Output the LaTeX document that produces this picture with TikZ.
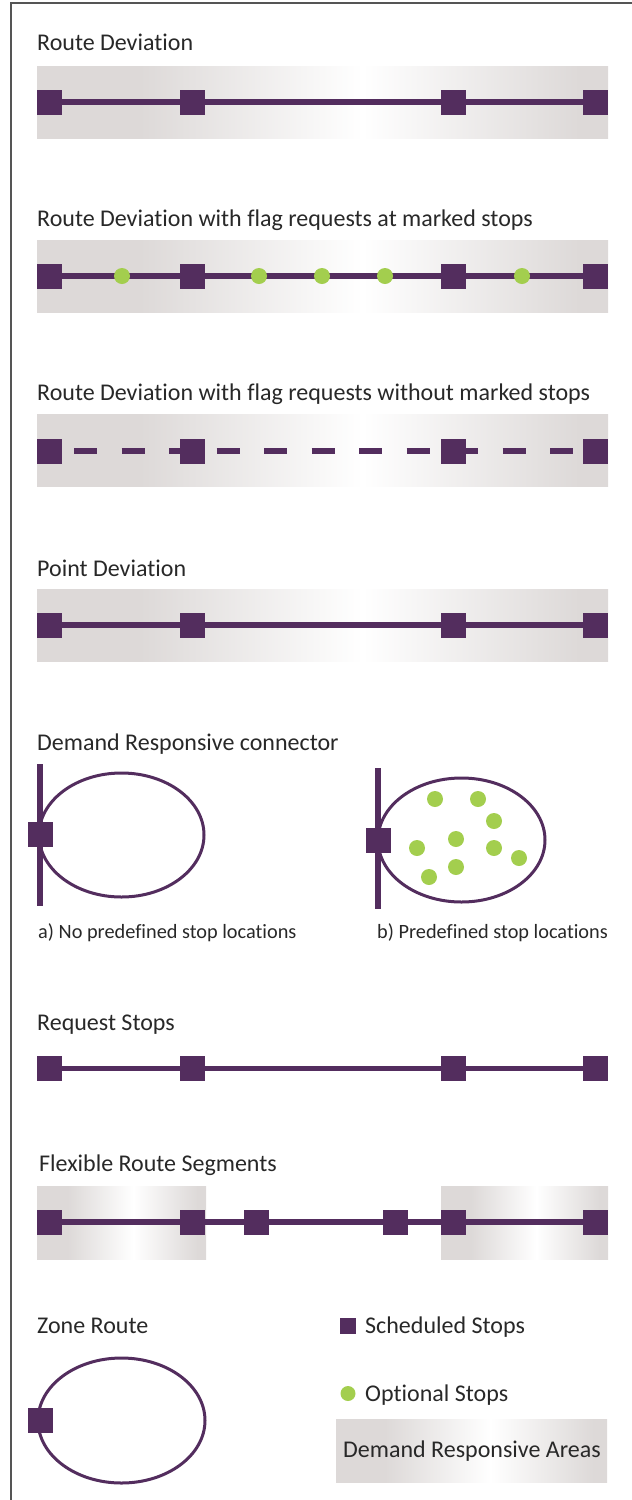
\documentclass[tikz,border=0pt]{standalone}
\usepackage{fontspec}
\setmainfont{Carlito}[Ligatures=NoCommon]
\usetikzlibrary{shapes.geometric}
\usetikzlibrary{positioning}

\definecolor{stoppurple}{RGB}{83,45,94}
\definecolor{optgreen}{RGB}{163,206,78}
\definecolor{areagray}{RGB}{221,217,216}
\definecolor{framegray}{RGB}{85,85,85}
\definecolor{textgray}{RGB}{40,40,40}

\pgfdeclarehorizontalshading{areashade}{100bp}{color(0bp)=(areagray); color(34bp)=(areagray); color(53.5bp)=(white); color(72.5bp)=(areagray); color(100bp)=(areagray)}

\tikzset{
    schedstop/.style={rectangle,fill=stoppurple,minimum size=25,inner sep=0},
    optstop/.style={circle,fill=optgreen,minimum size=16,inner sep=0},
    demandarea/.style={rectangle,shading=areashade,inner sep=0,minimum height=72},
    sectiontitle/.style={anchor=base west,inner sep=0,text=textgray,font=\fontsize{24}{28}\selectfont},
    subcaption/.style={anchor=base west,inner sep=0,text=textgray,font=\fontsize{20.3}{24}\selectfont},
    routeline/.style={stoppurple,line width=5.5},
    zoneloop/.style={ellipse,draw=stoppurple,line width=3,inner sep=0}
}

\begin{document}
\begin{tikzpicture}[x=1pt,y=-1pt]

            \useasboundingbox (0,0) rectangle (632,1500);
            \draw[framegray,line width=2] (11,1500) -- (11,3) -- (632,3);

            % Route Deviation
            \path   (37,50) node (t1) [sectiontitle] {Route Deviation}
                    (322.5,102) node (r1) [demandarea,minimum width=571] {}
                    (49.5,102) node (a1) [schedstop] {}
                    (192.5,102) node (a2) [schedstop] {}
                    (453.5,102) node (a3) [schedstop] {}
                    (595.5,102) node (a4) [schedstop] {};
            \draw[routeline] (node cs: name=a1) -- (node cs: name=a2);
            \draw[routeline] (node cs: name=a2) -- (node cs: name=a3);
            \draw[routeline] (node cs: name=a3) -- (node cs: name=a4);

            % flag requests at marked stops
            \path   (37,226) node (t2) [sectiontitle] {Route Deviation with flag requests at marked stops}
                    (322.5,276.5) node (r2) [demandarea,minimum width=571] {}
                    (49.5,276) node (b1) [schedstop] {}
                    (192.5,276) node (b2) [schedstop] {}
                    (453.5,276) node (b3) [schedstop] {}
                    (595.5,276) node (b4) [schedstop] {};
            \draw[routeline] (node cs: name=b1) -- (node cs: name=b2);
            \draw[routeline] (node cs: name=b2) -- (node cs: name=b3);
            \draw[routeline] (node cs: name=b3) -- (node cs: name=b4);
            \path   (122,276) node (g1) [optstop] {}
                    (259,276) node (g2) [optstop] {}
                    (322,276) node (g3) [optstop] {}
                    (385,276) node (g4) [optstop] {}
                    (522,276) node (g5) [optstop] {};

            % flag requests without marked stops
            \path   (37,400) node (t3) [sectiontitle] {Route Deviation with flag requests without marked stops}
                    (322.5,450.5) node (r3) [demandarea,minimum width=571] {}
                    (49.5,451) node (c1) [schedstop] {}
                    (192.5,451) node (c2) [schedstop] {}
                    (453.5,451) node (c3) [schedstop] {}
                    (595.5,451) node (c4) [schedstop] {};
            \draw[routeline,dash pattern=on 23 off 24.5,dash phase=35.5] (node cs: name=c1) -- (node cs: name=c2);
            \draw[routeline,dash pattern=on 23 off 24.5,dash phase=36] (node cs: name=c2) -- (node cs: name=c3);
            \draw[routeline,dash pattern=on 23 off 24.5,dash phase=11] (node cs: name=c3) -- (node cs: name=c4);

            % Point Deviation
            \path   (37,576) node (t4) [sectiontitle] {Point Deviation}
                    (322.5,625.5) node (r4) [demandarea,minimum width=571] {}
                    (49.5,625) node (d1) [schedstop] {}
                    (192.5,625) node (d2) [schedstop] {}
                    (453.5,625) node (d3) [schedstop] {}
                    (595.5,625) node (d4) [schedstop] {};
            \draw[routeline] (node cs: name=d1) -- (node cs: name=d2);
            \draw[routeline] (node cs: name=d2) -- (node cs: name=d3);
            \draw[routeline] (node cs: name=d3) -- (node cs: name=d4);

            % Demand Responsive connector
            \path   (37,750) node (t5) [sectiontitle] {Demand Responsive connector}
                    (121.5,835) node (e1) [zoneloop,minimum width=165,minimum height=124] {}
                    (461.5,840) node (e2) [zoneloop,minimum width=167,minimum height=124] {}
                    (40,764) coordinate (v1top)
                    (40,906) coordinate (v1bot)
                    (378,768) coordinate (v2top)
                    (378,909) coordinate (v2bot);
            \draw[routeline] (v1top) -- (v1bot);
            \draw[routeline] (v2top) -- (v2bot);
            \path   (40,834.5) node (e1stop) [schedstop] {}
                    (378,840) node (e2stop) [schedstop] {}
                    (435,799) node (h1) [optstop] {}
                    (478,799) node (h2) [optstop] {}
                    (494,821) node (h3) [optstop] {}
                    (456,839) node (h4) [optstop] {}
                    (417,848) node (h5) [optstop] {}
                    (494,848) node (h6) [optstop] {}
                    (519,858) node (h7) [optstop] {}
                    (456,867) node (h8) [optstop] {}
                    (429,877) node (h9) [optstop] {}
                    (38,938) node (capa) [subcaption] {a) No predefined stop locations}
                    (377,938) node (capb) [subcaption] {b) Predefined stop locations};

            % Request Stops
            \path   (37,1030) node (t6) [sectiontitle] {Request Stops}
                    (49.5,1068.5) node (f1) [schedstop] {}
                    (192.5,1068.5) node (f2) [schedstop] {}
                    (453.5,1068.5) node (f3) [schedstop] {}
                    (595.5,1068.5) node (f4) [schedstop] {};
            \draw[routeline] (node cs: name=f1) -- (node cs: name=f2);
            \draw[routeline] (node cs: name=f2) -- (node cs: name=f3);
            \draw[routeline] (node cs: name=f3) -- (node cs: name=f4);

            % Flexible Route Segments
            \path   (39,1171) node (t7) [sectiontitle] {Flexible Route Segments}
                    (121.5,1222.5) node (r7a) [demandarea,minimum width=169,minimum height=73] {}
                    (524.5,1222.5) node (r7b) [demandarea,minimum width=167,minimum height=73] {}
                    (49.5,1222) node (k1) [schedstop] {}
                    (192.5,1222) node (k2) [schedstop] {}
                    (256.5,1222) node (k3) [schedstop] {}
                    (395.5,1222) node (k4) [schedstop] {}
                    (453.5,1222) node (k5) [schedstop] {}
                    (595.5,1222) node (k6) [schedstop] {};
            \draw[routeline] (node cs: name=k1) -- (node cs: name=k2);
            \draw[routeline] (node cs: name=k2) -- (node cs: name=k3);
            \draw[routeline] (node cs: name=k3) -- (node cs: name=k4);
            \draw[routeline] (node cs: name=k4) -- (node cs: name=k5);
            \draw[routeline] (node cs: name=k5) -- (node cs: name=k6);

            % Zone Route
            \path   (37,1333) node (t8) [sectiontitle] {Zone Route}
                    (121.5,1420.5) node (z1) [zoneloop,minimum width=167,minimum height=125] {}
                    (40.5,1420.5) node (z1stop) [schedstop] {};

            % legend
            \path   (348,1325.5) node (l1) [schedstop,minimum size=16] {}
                    (365,1333) node (l1text) [sectiontitle] {Scheduled Stops}
                    (348,1393.5) node (l2) [optstop,minimum size=15] {}
                    (365,1401) node (l2text) [sectiontitle] {Optional Stops}
                    (471.5,1450.5) node (l3) [demandarea,minimum width=271,minimum height=63] {}
                    (343,1457) node (l3text) [sectiontitle] {Demand Responsive Areas};

\end{tikzpicture}
\end{document}
